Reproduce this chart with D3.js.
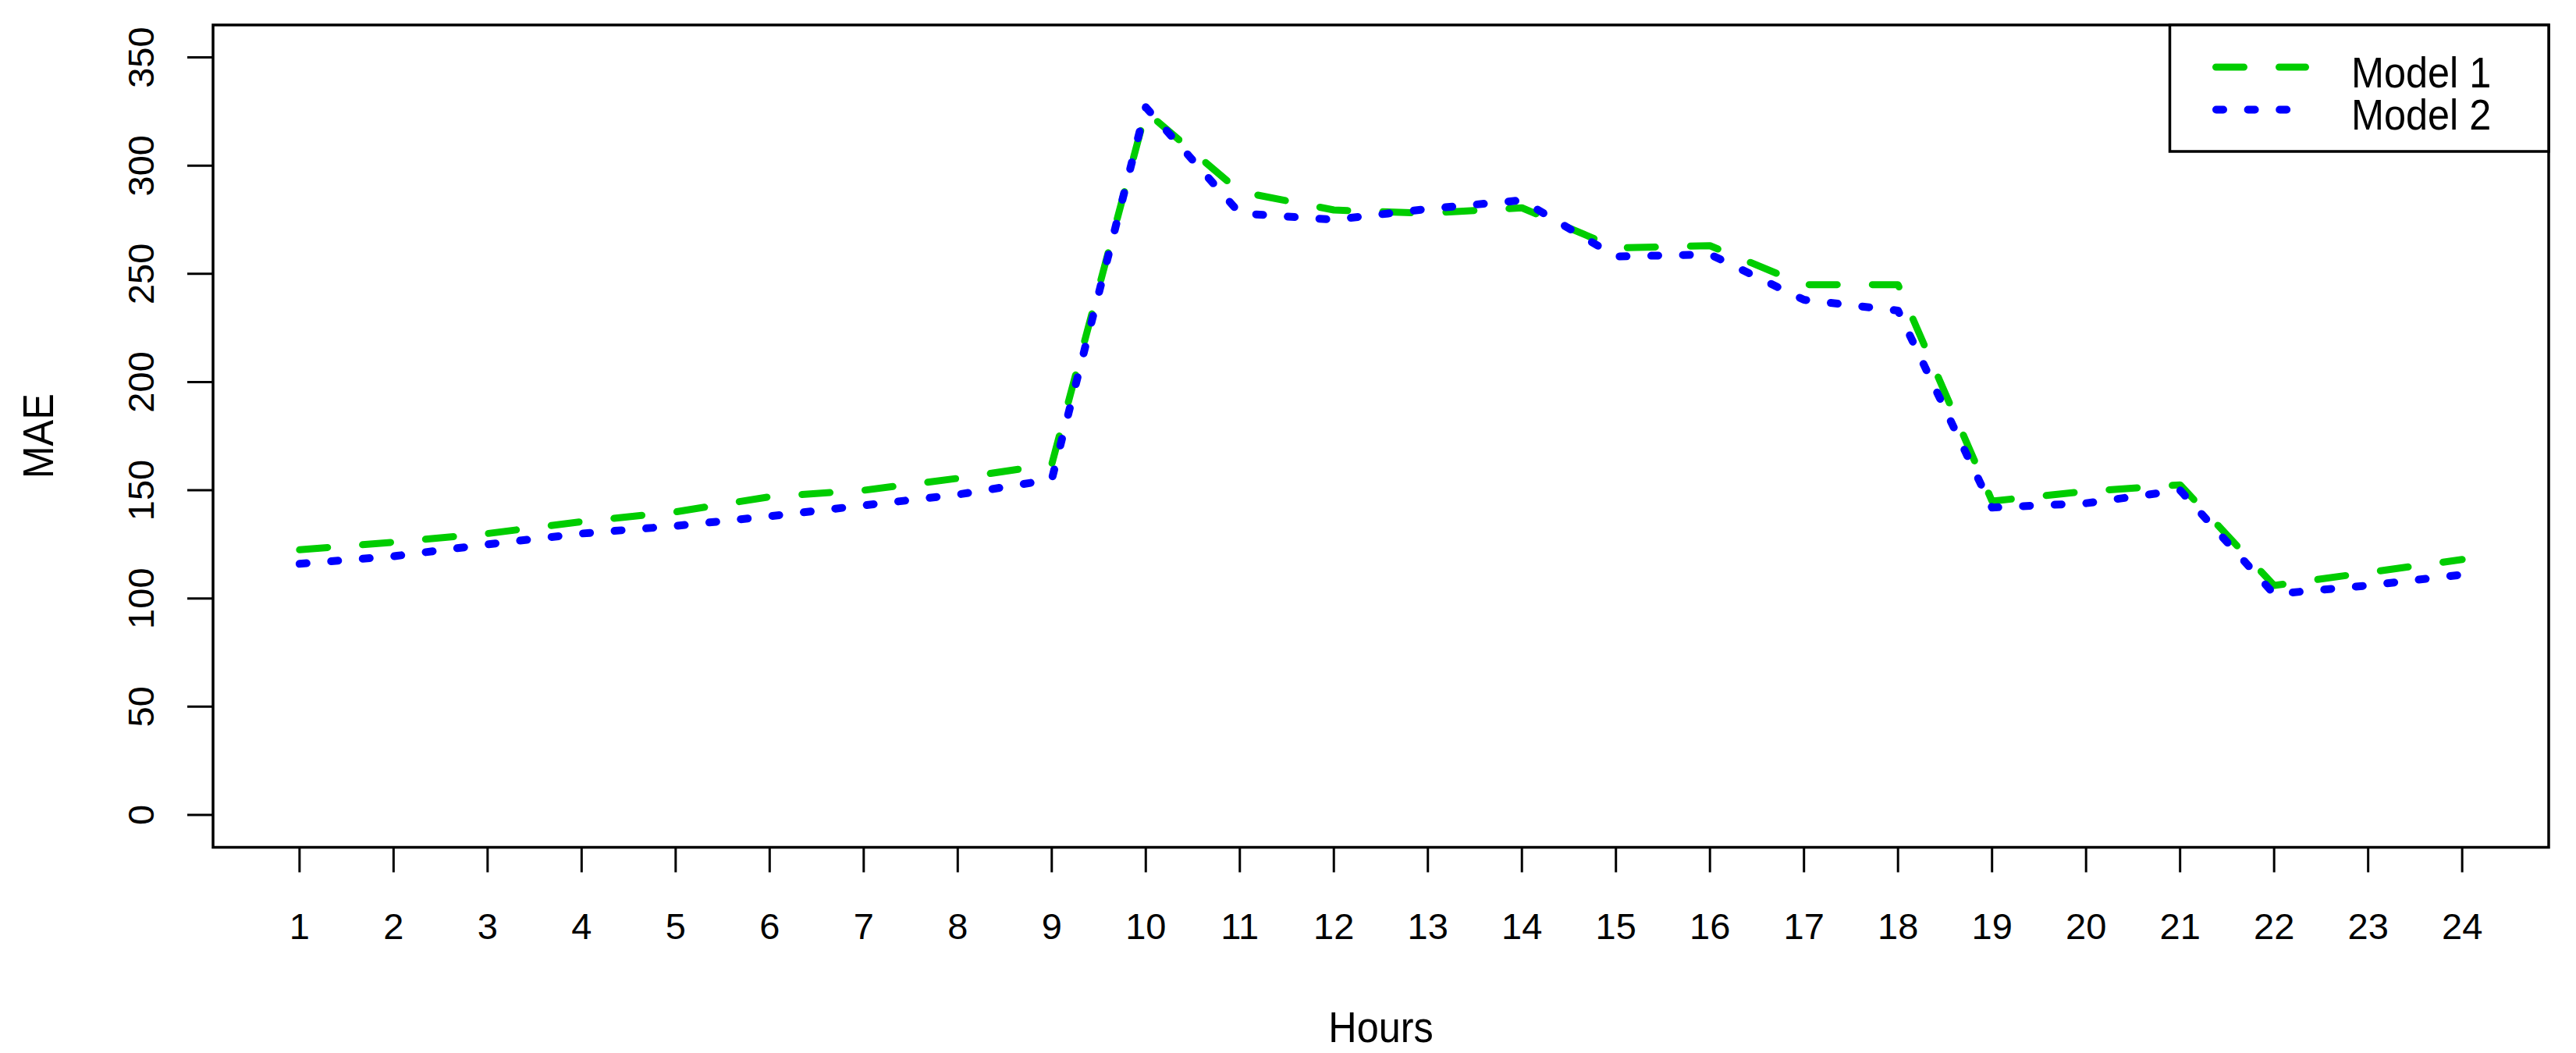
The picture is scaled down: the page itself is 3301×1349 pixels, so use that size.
<!DOCTYPE html>
<html><head><meta charset="utf-8">
<script src="https://cdn.jsdelivr.net/npm/d3@7"></script>
<style>body{margin:0;background:#fff}svg{display:block}</style>
</head><body><svg id="c" width="3301" height="1349"></svg>
<script>
// ---- data ----
const hours  = [1,2,3,4,5,6,7,8,9,10,11,12,13,14,15,16,17,18,19,20,21,22,23,24];
const model1 = [122.5,126,130,135.5,140,147,150,155.5,162,325,288,279.5,278,280.5,262,263,245,245,145,149.5,152.5,106,112,118];
const model2 = [116,119.5,125,130,133.5,138,143,148,155,327,278,275,280,284,258,259,238,233,142,144,150,102,106,111];
const yTicks = [0,50,100,150,200,250,300,350];
const seriesNames = ["Model 1","Model 2"];
const seriesColors = ["#00CD00","#0000FF"];
const xTitle = "Hours", yTitle = "MAE";

// ---- layout ----
const W = 3301, H = 1349;
const L = 273, R = 3266, T = 32, B = 1085.5;
const FONT = "'Liberation Sans', Arial, Helvetica, sans-serif";
const svg = d3.select("#c").style("font-family", FONT);
svg.append("rect").attr("width", W).attr("height", H).attr("fill", "#fff");

// R-style 4% extension of ranges
const x = d3.scaleLinear().domain([1 - 0.04*23, 24 + 0.04*23]).range([L, R]);
const y = d3.scaleLinear().domain([-15, 365]).range([B, T]);

// lines
const line = d3.line().x((d,i) => x(hours[i])).y(d => y(d));
const styles = [
  {w: 9,  dash: "36 45"},
  {w: 10, dash: "9 31.6"}
];
[model1, model2].forEach((s, k) => {
  svg.append("path").datum(s).attr("d", line)
    .attr("fill", "none").attr("stroke", seriesColors[k])
    .attr("stroke-width", styles[k].w).attr("stroke-linecap", "round")
    .attr("stroke-linejoin", "round").attr("stroke-dasharray", styles[k].dash);
});

// frame
svg.append("rect").attr("x", L).attr("y", T).attr("width", R - L).attr("height", B - T)
  .attr("fill", "none").attr("stroke", "#000").attr("stroke-width", 3.5);

// x axis ticks & labels
const gx = svg.append("g");
gx.selectAll("line").data(hours).join("line")
  .attr("x1", d => x(d)).attr("x2", d => x(d)).attr("y1", B).attr("y2", B + 32)
  .attr("stroke", "#000").attr("stroke-width", 3);
gx.selectAll("text").data(hours).join("text")
  .attr("x", d => x(d)).attr("y", B + 117)
  .attr("text-anchor", "middle").attr("font-size", 47).attr("fill", "#000")
  .text(d => d);

// y axis ticks & labels
const gy = svg.append("g");
gy.selectAll("line").data(yTicks).join("line")
  .attr("x1", L - 33).attr("x2", L).attr("y1", d => y(d)).attr("y2", d => y(d))
  .attr("stroke", "#000").attr("stroke-width", 3);
gy.selectAll("text").data(yTicks).join("text")
  .attr("transform", d => `translate(${L - 76},${y(d)}) rotate(-90)`)
  .attr("text-anchor", "middle").attr("font-size", 47).attr("fill", "#000")
  .text(d => d);

// titles
svg.append("text").attr("transform", `translate(${(L + R)/2},1335) scale(0.9,1)`)
  .attr("text-anchor", "middle").attr("font-size", 56).attr("fill", "#000").text(xTitle);
svg.append("text").attr("transform", `translate(68,${(T + B)/2}) rotate(-90) scale(0.9,1)`)
  .attr("text-anchor", "middle").attr("font-size", 56).attr("fill", "#000").text(yTitle);

// legend
const LG = {x0: 2780.5, y0: T, y1: 194};
svg.append("rect").attr("x", LG.x0).attr("y", LG.y0).attr("width", R - LG.x0).attr("height", LG.y1 - LG.y0)
  .attr("fill", "#fff").attr("stroke", "#000").attr("stroke-width", 3.5);
const legY = [86, 140.5], legTextY = [111.7, 165.5];
seriesNames.forEach((n, k) => {
  const cap = styles[k].w / 2;
  svg.append("line").attr("x1", LG.x0 + 54.5 + cap).attr("x2", LG.x0 + 178.5 - cap)
    .attr("y1", legY[k]).attr("y2", legY[k])
    .attr("stroke", seriesColors[k]).attr("stroke-width", styles[k].w)
    .attr("stroke-linecap", "round").attr("stroke-dasharray", styles[k].dash);
  svg.append("text").attr("transform", `translate(${LG.x0 + 232.5},${legTextY[k]}) scale(0.9,1)`)
    .attr("font-size", 56).attr("fill", "#000").text(n);
});
</script></body></html>
